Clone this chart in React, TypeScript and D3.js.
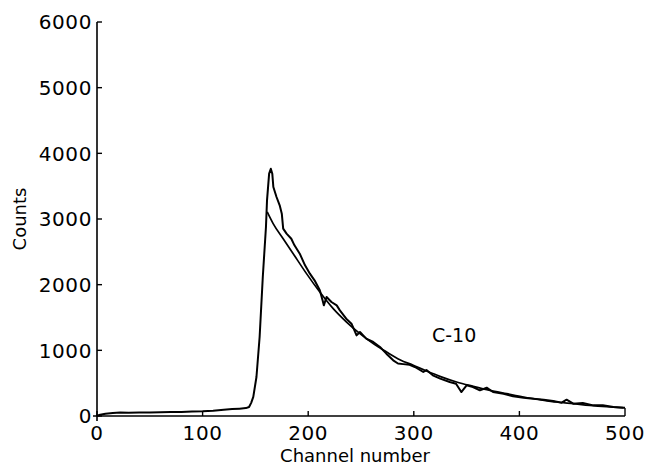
import React from "react";
import * as d3 from "d3";

const spectrumChannels = [0, 3, 8, 15, 22, 30, 40, 50, 60, 70, 80, 90, 100, 110, 120, 128, 135, 141, 144, 146, 148, 151, 154, 157, 160, 161, 163, 164.6, 166, 167, 170, 173, 175, 176.3, 179.5, 184, 187, 192, 197, 201.6, 206, 211, 213.6, 214.8, 217.4, 222, 227, 230, 236, 241, 245.8, 249, 255, 261.6, 268, 274, 280.5, 285, 290, 296, 301, 309, 312, 318, 325, 334, 340, 345, 350, 356, 362.6, 369, 375, 385, 394, 404, 413, 423, 432, 440, 444.7, 451, 460, 470, 479, 489, 498, 500];
const spectrumCounts = [5, 20, 35, 45, 55, 50, 55, 52, 58, 60, 62, 68, 72, 80, 95, 105, 112, 120, 137, 200, 290, 594, 1203, 2117, 2878, 3284, 3690, 3766, 3690, 3487, 3335, 3208, 3081, 2853, 2777, 2700, 2599, 2472, 2294, 2168, 2066, 1914, 1761, 1685, 1812, 1736, 1685, 1609, 1482, 1406, 1228, 1279, 1178, 1127, 1051, 949, 848, 800, 790, 780, 746, 670, 700, 619, 569, 518, 492, 365, 467, 442, 391, 431, 365, 340, 299, 279, 264, 249, 228, 203, 249, 188, 198, 162, 162, 137, 127, 125];

const fitChannels = [161.2, 166.8, 176.3, 185.8, 198.4, 211, 223.7, 236.3, 249, 261.6, 274.2, 286.8, 299.5, 312.1, 324.7, 340.5, 356.3, 372.1, 387.9, 403.7, 419.5, 435.2, 451, 466.8, 482.6, 498.4];
const fitCounts = [3107, 2929, 2700, 2472, 2168, 1888, 1635, 1431, 1254, 1102, 975, 858, 772, 685, 604, 518, 452, 391, 340, 289, 249, 213, 188, 162, 142, 127];

const xTicks = [0, 100, 200, 300, 400, 500];
const yTicks = [0, 1000, 2000, 3000, 4000, 5000, 6000];
const seriesLabel = "C-10";
const xTitle = "Channel number";
const yTitle = "Counts";

const W = 646;
const H = 466;
const FONT = "'DejaVu Sans', sans-serif";

export default function App() {
  const x = d3.scaleLinear().domain([0, 500]).range([97, 625]);
  const y = d3.scaleLinear().domain([0, 6000]).range([416, 22]);

  const spectrum = spectrumChannels.map((c, i) => [c, spectrumCounts[i]] as [number, number]);
  const fit = fitChannels.map((c, i) => [c, fitCounts[i]] as [number, number]);

  const lineLin = d3.line<[number, number]>().x((d) => x(d[0])).y((d) => y(d[1]));
  const lineSmooth = d3
    .line<[number, number]>()
    .x((d) => x(d[0]))
    .y((d) => y(d[1]))
    .curve(d3.curveMonotoneX);

  const x0 = x(0);
  const y0 = y(0);

  return (
    <div style={{ position: "fixed", left: 0, top: 0, width: W, height: H, background: "#fff" }}>
      <svg width={W} height={H} style={{ display: "block" }}>
        <rect x={0} y={0} width={W} height={H} fill="#fff" />
        {/* axes */}
        <line x1={x0} x2={x0} y1={y(6000)} y2={y0 + 5} stroke="#000" strokeWidth={1.6} />
        <line x1={x0 - 4} x2={x(500)} y1={y0} y2={y0} stroke="#000" strokeWidth={1.6} />
        {yTicks.map((t) => (
          <g key={"y" + t}>
            <line x1={x0} x2={x0 + 5} y1={y(t)} y2={y(t)} stroke="#000" strokeWidth={1.4} />
            <text
              x={x0 - 5}
              y={y(t)}
              dy="0.36em"
              textAnchor="end"
              fontFamily={FONT}
              fontSize={20}
              letterSpacing={0.6}
            >
              {t}
            </text>
          </g>
        ))}
        {xTicks.map((t) => (
          <g key={"x" + t}>
            <line
              x1={x(t)}
              x2={x(t)}
              y1={y0}
              y2={y0 - (t === 500 ? 8 : 5)}
              stroke="#000"
              strokeWidth={1.4}
            />
            <text
              x={x(t)}
              y={y0 + 17}
              dy="0.36em"
              textAnchor="middle"
              fontFamily={FONT}
              fontSize={20}
              letterSpacing={0.6}
            >
              {t}
            </text>
          </g>
        ))}
        <text x={x(250) - 6} y={456} dy="0.36em" textAnchor="middle" fontFamily={FONT} fontSize={18}>
          {xTitle}
        </text>
        <text
          transform={`translate(20, ${y(3000)}) rotate(-90)`}
          dy="0.36em"
          textAnchor="middle"
          fontFamily={FONT}
          fontSize={18}
        >
          {yTitle}
        </text>
        {/* series */}
        <path d={lineSmooth(fit) || ""} fill="none" stroke="#000" strokeWidth={1.7} />
        <path d={lineLin(spectrum) || ""} fill="none" stroke="#000" strokeWidth={2} strokeLinejoin="round" />
        <text x={432} y={335} dy="0.36em" fontFamily={FONT} fontSize={19}>
          {seriesLabel}
        </text>
      </svg>
    </div>
  );
}
